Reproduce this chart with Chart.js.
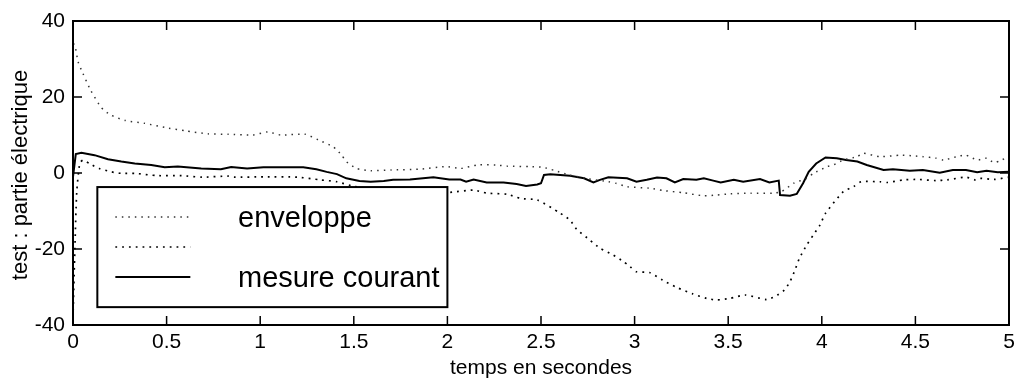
<!DOCTYPE html>
<html>
<head>
<meta charset="utf-8">
<script src="https://cdn.jsdelivr.net/npm/chart.js@4/dist/chart.umd.min.js"></script>
<style>
  html, body { margin: 0; padding: 0; background: #fff; }
  #wrap { width: 1020px; height: 380px; }
</style>
</head>
<body>
<div id="wrap"><canvas id="myLineChart"></canvas></div>
<script>
// enveloppe haute
const upperT = [0, 0.01, 0.027, 0.053, 0.094, 0.15, 0.2, 0.28, 0.38, 0.51, 0.6, 0.72, 0.83, 0.96, 1.04, 1.11, 1.24, 1.31, 1.39, 1.435, 1.46, 1.515, 1.59, 1.7, 1.85, 1.99, 2.07, 2.16, 2.26, 2.32, 2.44, 2.51, 2.57, 2.65, 2.75, 2.86, 2.9, 2.96, 3.08, 3.15, 3.26, 3.37, 3.44, 3.51, 3.62, 3.74, 3.785, 3.85, 3.92, 3.955, 4.03, 4.06, 4.115, 4.19, 4.22, 4.31, 4.42, 4.49, 4.54, 4.61, 4.65, 4.72, 4.77, 4.83, 4.88, 4.92, 4.95, 5];
const upperV = [34, 33.7, 29.3, 26.2, 21.8, 17.3, 15.3, 13.8, 13.1, 11.8, 11.1, 10.3, 10.2, 10, 10.8, 10, 10.2, 8.7, 6.9, 4.7, 3, 1.2, 0.6, 0.8, 1, 1.7, 1.2, 2.1, 2.1, 1.8, 1.7, 1.5, 0.7, -0.5, -1.5, -2.3, -2.7, -3.6, -4, -4.6, -5.2, -6, -5.8, -5.5, -5.3, -5.3, -4.9, -2.7, -1.4, -0.1, 1.7, 2.1, 3.4, 4.3, 5.2, 4.3, 4.7, 4.5, 4.3, 3.9, 3.4, 4.3, 4.7, 3.4, 3.9, 2.7, 3.2, 4.3];

// enveloppe basse
const lowerT = [0, 0.01, 0.02, 0.036, 0.053, 0.09, 0.14, 0.205, 0.26, 0.33, 0.45, 0.58, 0.69, 0.83, 0.86, 1.02, 1.2, 1.32, 1.41, 1.5, 1.6, 1.75, 1.9, 2.01, 2.14, 2.21, 2.32, 2.39, 2.48, 2.6, 2.655, 2.69, 2.76, 2.815, 2.886, 2.94, 2.975, 3.01, 3.08, 3.15, 3.225, 3.31, 3.385, 3.44, 3.51, 3.59, 3.705, 3.75, 3.8, 3.83, 3.857, 3.88, 3.92, 3.955, 3.99, 4.02, 4.115, 4.17, 4.21, 4.31, 4.35, 4.44, 4.52, 4.61, 4.67, 4.77, 4.82, 4.845, 4.92, 5];
const lowerV = [-38, -20, -5, 2.5, 3.4, 2.4, 1.2, 0.3, -0.1, -0.1, -0.7, -0.7, -1.1, -0.8, -1.1, -1, -1.1, -1.8, -2.3, -3.5, -4.2, -4.5, -4.8, -5.1, -4.5, -5.3, -5.6, -6.7, -7.1, -10.5, -12.4, -14.8, -17.6, -19.8, -21.6, -23.3, -24.6, -26, -26.2, -28.2, -30.1, -31.8, -33, -33.4, -33, -32.1, -33.3, -32.5, -30.8, -28.6, -25.5, -22.5, -18.9, -16.3, -13.7, -10.6, -4.9, -3.6, -2.3, -2.3, -2.5, -1.8, -1.7, -2, -1.8, -1.1, -1.8, -1.4, -1.7, -1.1];

// mesure courant
const mesureT = [0, 0.015, 0.045, 0.115, 0.187, 0.258, 0.33, 0.418, 0.49, 0.56, 0.685, 0.79, 0.845, 0.93, 1.017, 1.106, 1.23, 1.3, 1.355, 1.41, 1.46, 1.53, 1.59, 1.66, 1.71, 1.8, 1.925, 2.01, 2.07, 2.1, 2.14, 2.21, 2.3, 2.37, 2.42, 2.48, 2.5, 2.516, 2.55, 2.655, 2.73, 2.78, 2.815, 2.86, 2.96, 3.01, 3.065, 3.12, 3.17, 3.215, 3.26, 3.33, 3.37, 3.42, 3.46, 3.53, 3.58, 3.67, 3.72, 3.77, 3.777, 3.83, 3.866, 3.9, 3.93, 3.97, 4.02, 4.08, 4.13, 4.19, 4.24, 4.33, 4.38, 4.47, 4.54, 4.63, 4.7, 4.77, 4.83, 4.88, 4.94, 5];
const mesureV = [-1, 5, 5.3, 4.7, 3.6, 3, 2.5, 2.1, 1.5, 1.7, 1.2, 1, 1.6, 1.2, 1.5, 1.5, 1.5, 1, 0.3, -0.3, -1.4, -2.1, -2.3, -2.1, -1.8, -1.7, -1.1, -1.7, -1.7, -2.3, -1.7, -2.5, -2.5, -2.9, -3.4, -3, -2.7, -0.5, -0.3, -0.7, -1.4, -2.5, -1.8, -1.1, -1.4, -2.3, -1.8, -1.2, -1.4, -2.5, -1.6, -1.8, -1.4, -2, -2.5, -1.8, -2.3, -1.6, -2.5, -2, -5.8, -6, -5.5, -2.7, 0.3, 2.5, 4.1, 3.9, 3.4, 3, 2.1, 0.8, 1, 0.6, 0.8, 0.1, 0.8, 0.8, 0.2, 0.6, 0.2, 0.3];

const xTicks = [0, 0.5, 1, 1.5, 2, 2.5, 3, 3.5, 4, 4.5, 5];
const yTicks = [-40, -20, 0, 20, 40];

const legendLabels = ["enveloppe", "", "mesure courant"];
const yTitle = "test : partie électrique";

const FONT = "Arial, 'Liberation Sans', sans-serif";

function toPoints(ts, vs) {
  return ts.map((t, i) => ({ x: t, y: vs[i] }));
}

// cadre + graduations vers l'interieur, sur les quatre cotes
const framePlugin = {
  id: "frame",
  afterDatasetsDraw(chart) {
    const ctx = chart.ctx;
    const a = chart.chartArea;
    const xs = chart.scales.x, ys = chart.scales.y;
    const tl = 9;
    ctx.save();
    ctx.strokeStyle = "#000";
    ctx.lineWidth = 1.5;
    ctx.beginPath();
    xTicks.forEach((v) => {
      if (v === xs.min || v === xs.max) return;
      const px = xs.getPixelForValue(v);
      ctx.moveTo(px, a.bottom); ctx.lineTo(px, a.bottom - tl);
      ctx.moveTo(px, a.top); ctx.lineTo(px, a.top + tl);
    });
    yTicks.forEach((v) => {
      if (v === ys.min || v === ys.max) return;
      const py = ys.getPixelForValue(v);
      ctx.moveTo(a.left, py); ctx.lineTo(a.left + tl, py);
      ctx.moveTo(a.right, py); ctx.lineTo(a.right - tl, py);
    });
    ctx.stroke();
    ctx.lineWidth = 2;
    ctx.strokeRect(a.left, a.top, a.right - a.left, a.bottom - a.top);
    ctx.restore();
  },
  afterDraw(chart) {
    const ctx = chart.ctx;
    const xs = chart.scales.x, ys = chart.scales.y;

    // titre de l'axe y
    ctx.save();
    ctx.fillStyle = "#000";
    ctx.font = "22px " + FONT;
    ctx.textAlign = "center";
    ctx.textBaseline = "middle";
    ctx.translate(21, 175);
    ctx.rotate(-Math.PI / 2);
    ctx.fillText(yTitle, 0, 0);
    ctx.restore();

    // legende dans la zone du trace
    const bx = xs.getPixelForValue(0.13), bx2 = xs.getPixelForValue(2.0);
    const by = ys.getPixelForValue(-3.7), by2 = ys.getPixelForValue(-35.3);
    ctx.save();
    ctx.fillStyle = "#fff";
    ctx.fillRect(bx, by, bx2 - bx, by2 - by);
    ctx.strokeStyle = "#000";
    ctx.lineWidth = 2;
    ctx.strokeRect(bx, by, bx2 - bx, by2 - by);
    const rows = [217, 247, 277];
    chart.data.datasets.forEach((ds, i) => {
      ctx.beginPath();
      ctx.strokeStyle = ds.borderColor;
      ctx.lineWidth = ds.borderWidth;
      ctx.setLineDash(ds.borderDash || []);
      ctx.moveTo(bx + 18, rows[i]);
      ctx.lineTo(bx + 93, rows[i]);
      ctx.stroke();
    });
    ctx.setLineDash([]);
    ctx.fillStyle = "#000";
    ctx.font = "29px " + FONT;
    ctx.textBaseline = "alphabetic";
    ctx.fillText(legendLabels[0], 238, 227);
    ctx.fillText(legendLabels[2], 238, 287);
    ctx.restore();
  }
};

const ctx = document.getElementById("myLineChart");

new Chart(ctx, {
  type: "line",
  data: {
    datasets: [
      {
        label: "enveloppe",
        data: toPoints(upperT, upperV),
        borderColor: "#333",
        borderWidth: 1.5,
        borderDash: [1.5, 5],
        pointRadius: 0,
        tension: 0.2,
      },
      {
        label: "enveloppe basse",
        data: toPoints(lowerT, lowerV),
        borderColor: "#000",
        borderWidth: 1.7,
        borderDash: [1.8, 5],
        pointRadius: 0,
        tension: 0.2,
      },
      {
        label: "mesure courant",
        data: toPoints(mesureT, mesureV),
        borderColor: "#000",
        borderWidth: 2,
        pointRadius: 0,
        tension: 0,
      },
    ],
  },
  options: {
    responsive: true,
    maintainAspectRatio: false,
    animation: false,
    layout: { padding: { top: 21, right: 11, left: 0, bottom: 0 } },
    plugins: { legend: { display: false }, tooltip: { enabled: false } },
    scales: {
      x: {
        type: "linear",
        min: 0,
        max: 5,
        afterBuildTicks: (s) => { s.ticks = xTicks.map((v) => ({ value: v })); },
        afterFit: (s) => { s.height = 55; },
        grid: { display: false, drawTicks: false },
        border: { display: false },
        ticks: {
          color: "#000",
          padding: 5,
          maxRotation: 0,
          font: { family: FONT, size: 21 },
          callback: (v) => String(v),
        },
        title: {
          display: true,
          text: "temps en secondes",
          color: "#000",
          padding: 0,
          font: { family: FONT, size: 21, lineHeight: 1.1 },
        },
      },
      y: {
        min: -40,
        max: 40,
        afterBuildTicks: (s) => { s.ticks = yTicks.map((v) => ({ value: v })); },
        afterFit: (s) => { s.width = 73; },
        grid: { display: false, drawTicks: false },
        border: { display: false },
        ticks: { color: "#000", padding: 8, font: { family: FONT, size: 21 }, callback: (v) => String(v) },
        title: { display: false },
      },
    },
  },
  plugins: [framePlugin],
});
</script>
</body>
</html>
